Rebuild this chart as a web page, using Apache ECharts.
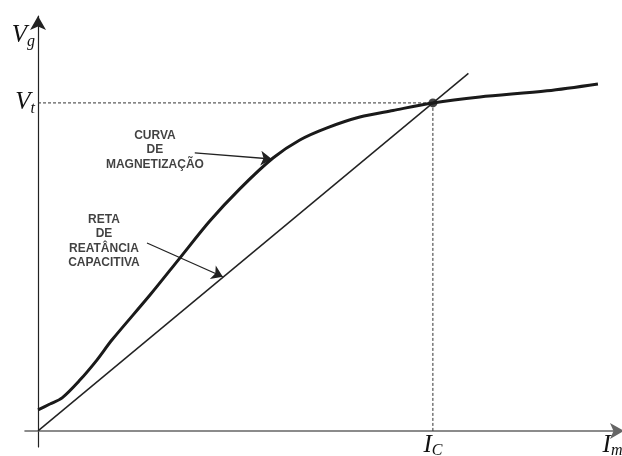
<!DOCTYPE html>
<html>
<head>
<meta charset="utf-8">
<script src="https://cdn.jsdelivr.net/npm/echarts@6/dist/echarts.min.js"></script>
<style>
  html, body { margin: 0; padding: 0; background: #fff; }
  #chart { width: 622px; height: 456px; }
</style>
</head>
<body>
<div id="chart"></div>
<script>
// magnetisation curve (Im, Vg)
var curveData = [
    [0, 0.64], [0.30, 0.82], [0.61, 1.01], [1.06, 1.55], [1.49, 2.16],
    [1.87, 2.77], [2.84, 4.15], [3.59, 5.27], [4.35, 6.40], [5.11, 7.38],
    [5.95, 8.32], [6.63, 8.87], [7.32, 9.24], [8.15, 9.57], [8.99, 9.77],
    [10, 10], [11.19, 10.18], [12.89, 10.37], [14.18, 10.58]
];
// capacitive reactance line
var reactanceLine = [[0, 0], [10.9, 10.9]];
// operating point
var opPoint = [[10, 10]];
var hGuide = [[0, 10], [10, 10]];
var vGuide = [[10, 10], [10, 0]];

// axis labels
var xTickValues = [10, 14.55];
var xTickMain = ['I', 'I'];
var xTickSub = ['C', 'm'];
var yTickValues = [10, 12.05];
var yTickMain = ['V', 'V'];
var yTickSub = ['t', 'g'];

// annotations
var noteText = ['CURVA\nDE\nMAGNETIZAÇÃO', 'RETA\nDE\nREATÂNCIA\nCAPACITIVA'];
var notePos = [[2.96, 8.57], [1.67, 5.79]];
var arrowCoords = [
    [[3.97, 8.48], [5.92, 8.29]],
    [[2.76, 5.73], [4.68, 4.70]]
];

var richStyle = {
    m: { fontFamily: 'Liberation Serif', fontStyle: 'italic', fontSize: 25, color: '#111', lineHeight: 28 },
    s: { fontFamily: 'Liberation Serif', fontStyle: 'italic', fontSize: 16, color: '#111', lineHeight: 14, verticalAlign: 'bottom' }
};

function tickLabel(values, main, sub) {
    return function (v) {
        for (var i = 0; i < values.length; i++) {
            if (Math.abs(values[i] - v) < 1e-6) return '{m|' + main[i] + '}{s|' + sub[i] + '}';
        }
        return '';
    };
}

var chart = echarts.init(document.getElementById('chart'));
chart.setOption({
    animation: false,
    backgroundColor: '#fff',
    grid: { left: 25, right: -2, top: 16, bottom: 9, outerBoundsMode: 'none', containLabel: false },
    xAxis: {
        type: 'value',
        min: -0.33,
        max: 14.84,
        splitLine: { show: false },
        axisTick: { show: false },
        axisLine: {
            onZero: true,
            symbol: ['none', 'arrow'],
            symbolSize: [12, 14],
            lineStyle: { color: '#666', width: 1.6 }
        },
        axisLabel: {
            customValues: xTickValues,
            margin: -16,
            formatter: tickLabel(xTickValues, xTickMain, xTickSub),
            rich: richStyle
        }
    },
    yAxis: {
        type: 'value',
        min: -0.49,
        max: 12.65,
        splitLine: { show: false },
        axisTick: { show: false },
        axisLine: {
            onZero: true,
            symbol: ['none', 'arrow'],
            symbolSize: [12, 14],
            lineStyle: { color: '#222', width: 1.2 }
        },
        axisLabel: {
            customValues: yTickValues,
            margin: -10,
            formatter: tickLabel(yTickValues, yTickMain, yTickSub),
            rich: richStyle
        }
    },
    series: [
        {
            type: 'line', data: hGuide, symbol: 'none', silent: true,
            lineStyle: { color: '#333', width: 1, type: [3, 2] }
        },
        {
            type: 'line', data: vGuide, symbol: 'none', silent: true,
            lineStyle: { color: '#333', width: 1, type: [3, 2] }
        },
        {
            type: 'line', data: reactanceLine, symbol: 'none',
            lineStyle: { color: '#222', width: 1.5 }
        },
        {
            type: 'line', data: curveData, symbol: 'none', smooth: 0.3,
            lineStyle: { color: '#1a1a1a', width: 3 }
        },
        {
            type: 'scatter', data: opPoint, symbolSize: 9,
            itemStyle: { color: '#111' }
        },
        {
            type: 'lines', coordinateSystem: 'cartesian2d',
            data: arrowCoords.map(function (c) { return { coords: c }; }),
            symbol: ['none', 'arrow'], symbolSize: 11,
            lineStyle: { color: '#222', width: 1.3, opacity: 1 }
        },
        {
            type: 'scatter', symbolSize: 0,
            data: notePos.map(function (p, i) { return { value: p, name: noteText[i] }; }),
            label: {
                show: true, position: 'inside', align: 'center',
                formatter: function (p) { return p.name; },
                fontFamily: 'Liberation Sans', fontWeight: 'bold', fontSize: 12,
                lineHeight: 14.5, color: '#111'
            }
        }
    ]
});
</script>
</body>
</html>
